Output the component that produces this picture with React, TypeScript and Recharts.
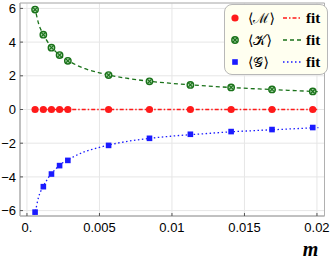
import { CartesianGrid, ComposedChart, Legend, Line, ReferenceArea, Scatter, XAxis, YAxis } from "recharts";

// sample points
const mSample = [0.00056, 0.00113, 0.00169, 0.00225, 0.00282, 0.00563, 0.00845, 0.01127, 0.01408, 0.0169, 0.01971];
const mExpValues = [0, 0, 0, 0, 0, 0, 0, 0, 0, 0, 0];
const kExpValues = [5.93, 4.44, 3.67, 3.23, 2.89, 2.04, 1.67, 1.46, 1.31, 1.19, 1.07];
const gExpValues = [-6.09, -4.58, -3.83, -3.33, -3.02, -2.13, -1.71, -1.47, -1.31, -1.19, -1.07];

// fit curves
const mFit = [0.0005, 0.0006, 0.0008, 0.0011, 0.0015, 0.002, 0.0025, 0.003, 0.004, 0.005, 0.006, 0.007, 0.008, 0.01, 0.012, 0.014, 0.016, 0.018, 0.0201];
const mFitValues = [0, 0, 0, 0, 0, 0, 0, 0, 0, 0, 0, 0, 0, 0, 0, 0, 0, 0, 0];
const kFitValues = [6.1, 5.8, 5.1, 4.5, 3.92, 3.42, 3.07, 2.82, 2.42, 2.18, 1.98, 1.84, 1.72, 1.55, 1.42, 1.31, 1.22, 1.14, 1.06];
const gFitValues = [-6.25, -5.95, -5.2, -4.6, -4.02, -3.52, -3.15, -2.9, -2.5, -2.25, -2.04, -1.88, -1.76, -1.58, -1.45, -1.33, -1.24, -1.16, -1.07];

const xTicks = [0, 0.005, 0.01, 0.015, 0.02];
const xTickLabels = ["0.", "0.005", "0.01", "0.015", "0.02"];
const yTicks = [-6, -4, -2, 0, 2, 4, 6];

const xDomain: [number, number] = [-0.00048, 0.02052];
const yDomain: [number, number] = [-6.32, 6.32];

const RED = "#ff1a1a";
const GREEN = "#1a721a";
const BLUE = "#1a1aff";

const series = [
  { name: "⟨ℳ⟩", color: RED, dash: "4 2 1.5 2", marker: "circle", pts: mExpValues, fit: mFitValues },
  { name: "⟨𝒦⟩", color: GREEN, dash: "4 3", marker: "otimes", pts: kExpValues, fit: kFitValues },
  { name: "⟨𝒢⟩", color: BLUE, dash: "1.5 2.5", marker: "square", pts: gExpValues, fit: gFitValues },
];

const toRows = (xs: number[], ys: number[]) => xs.map((m, i) => ({ m, v: ys[i] }));

function Marker({ kind, cx, cy, color }: { kind: string; cx: number; cy: number; color: string }) {
  if (kind === "square") return <rect x={cx - 2.8} y={cy - 2.8} width={5.6} height={5.6} fill={color} />;
  if (kind === "otimes")
    return (
      <g>
        <circle cx={cx} cy={cy} r={3.2} fill="#a8d4a8" stroke={color} strokeWidth={1.4} />
        <path d={`M${cx - 2},${cy - 2}L${cx + 2},${cy + 2}M${cx - 2},${cy + 2}L${cx + 2},${cy - 2}`} stroke={color} strokeWidth={1.2} />
      </g>
    );
  return <circle cx={cx} cy={cy} r={3.6} fill={color} />;
}

function LegendBox() {
  return (
    <div
      style={{
        width: 104,
        height: 71,
        boxSizing: "border-box",
        border: "1px solid #b8b8b8",
        borderRadius: 8,
        background: "#fffff0",
      }}
    >
      <svg width={102} height={69} style={{ display: "block" }}>
        {series.map((s, i) => {
          const y = 13 + i * 22;
          return (
            <g key={s.name}>
              <Marker kind={s.marker} cx={10} cy={y} color={s.color} />
              <text x={23} y={y + 5} fontFamily="'DejaVu Serif', serif" fontSize={14} fill="#000">
                {s.name}
              </text>
              <line x1={58} x2={77} y1={y} y2={y} stroke={s.color} strokeWidth={1.3} strokeDasharray={s.dash} />
              <text x={81} y={y + 5} fontFamily="'Liberation Serif', serif" fontWeight="bold" fontSize={15} fill="#000">
                fit
              </text>
            </g>
          );
        })}
      </svg>
    </div>
  );
}

export default function App() {
  const tickStyle = { fontFamily: "'Liberation Sans', Arial, sans-serif", fontSize: 13, fill: "#000" };
  return (
    <div style={{ position: "absolute", left: 0, top: 0, background: "#fff" }}>
      <ComposedChart width={332} height={264} margin={{ top: 3, right: 7.5, bottom: 0, left: 0 }}>
        <CartesianGrid stroke="#e6e6e6" />
        <XAxis
          dataKey="m"
          type="number"
          domain={xDomain}
          allowDataOverflow
          ticks={xTicks}
          tickFormatter={(v: number) => xTickLabels[xTicks.indexOf(v)] ?? String(v)}
          height={48}
          tickSize={-3}
          tickMargin={10}
          tick={tickStyle}
          stroke="#555"
          axisLine={{ stroke: "#b0b0b0" }}
          label={{
            content: ({ viewBox }: any) => (
              <text
                x={viewBox.x + viewBox.width - 14}
                y={viewBox.y + 40}
                textAnchor="middle"
                fontFamily="'Liberation Serif', serif"
                fontStyle="italic"
                fontWeight="bold"
                fontSize={20}
                fill="#000"
              >
                m
              </text>
            ),
          }}
        />
        <YAxis
          type="number"
          domain={yDomain}
          allowDataOverflow
          ticks={yTicks}
          tickFormatter={(v: number) => (v < 0 ? `\u2212${-v}` : String(v))}
          width={20}
          tickSize={-3}
          tickMargin={7}
          tick={tickStyle}
          stroke="#555"
          axisLine={{ stroke: "#b0b0b0" }}
        />
        <ReferenceArea x1={xDomain[0]} x2={xDomain[1]} y1={yDomain[0]} y2={yDomain[1]} fill="none" stroke="#b0b0b0" strokeOpacity={1} fillOpacity={0} />
        {series.map((s) => (
          <Line
            key={`fit-${s.name}`}
            data={toRows(mFit, s.fit)}
            dataKey="v"
            type="monotone"
            stroke={s.color}
            strokeWidth={1.3}
            strokeDasharray={s.dash}
            dot={false}
            activeDot={false}
            isAnimationActive={false}
          />
        ))}
        {series.map((s) => (
          <Scatter
            key={`pts-${s.name}`}
            data={toRows(mSample, s.pts)}
            dataKey="v"
            fill={s.color}
            shape={(p: any) => <Marker kind={s.marker} cx={p.cx} cy={p.cy} color={s.color} />}
            isAnimationActive={false}
          />
        ))}
        <Legend
          layout="vertical"
          align="center"
          verticalAlign="middle"
          content={() => <LegendBox />}
          wrapperStyle={{ position: "absolute", left: 224, top: 4, width: 104, height: 71 }}
        />
      </ComposedChart>
    </div>
  );
}
